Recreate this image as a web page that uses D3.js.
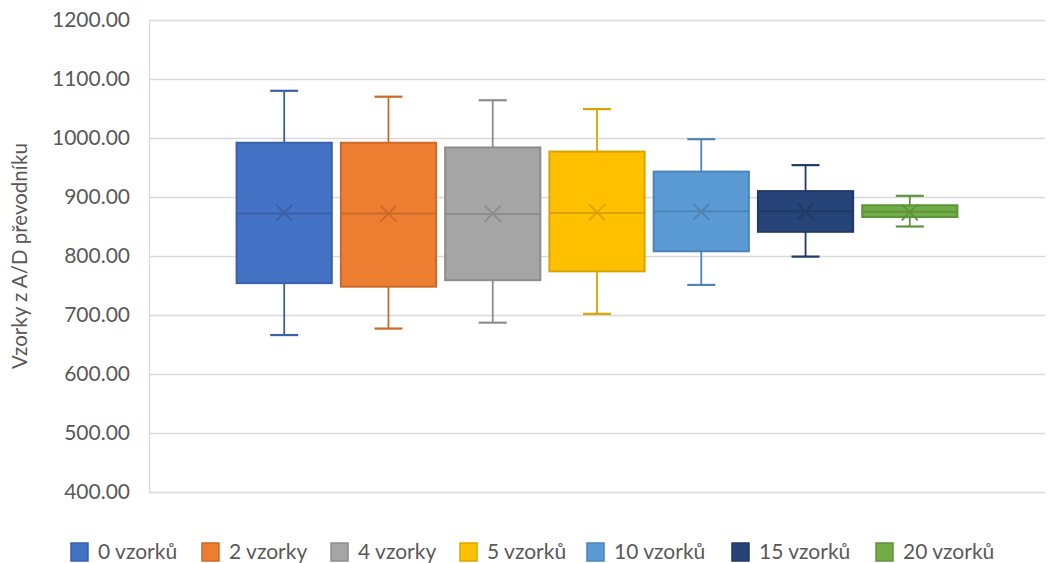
<!DOCTYPE html>
<html>
<head>
<meta charset="utf-8">
<script src="https://cdn.jsdelivr.net/npm/d3@7"></script>
<style>
  body { margin: 0; background: #fff; }
  svg { display: block; font-family: Lato, "Open Sans", sans-serif; }
</style>
</head>
<body>
<div id="chart"></div>
<script>
// series (one box per series)
const seriesNames = ["0 vzorků", "2 vzorky", "4 vzorky", "5 vzorků", "10 vzorků", "15 vzorků", "20 vzorků"];
const whiskerLow  = [666, 677, 687, 702, 751, 799, 850];
const q1          = [754, 748, 759, 774, 808, 841, 866];
const medians     = [872, 872, 871, 873, 876, 876, 875];
const q3          = [992, 992, 984, 977, 943, 910, 886];
const whiskerHigh = [1080, 1070, 1064, 1049, 998, 954, 902];
const means       = [873, 872, 872, 874, 875, 875, 874];
const colors = ["#4472C4", "#ED7D31", "#A5A5A5", "#FFC000", "#5B9BD5", "#264478", "#70AD47"];
const yTicks = [400, 500, 600, 700, 800, 900, 1000, 1100, 1200];

const width = 1048, height = 563;
const margin = { top: 20, right: 3, bottom: 71, left: 149 };

const svg = d3.select("#chart").append("svg")
    .attr("width", width)
    .attr("height", height);

const y = d3.scaleLinear()
    .domain([400, 1200])
    .range([height - margin.bottom, margin.top]);

const x = d3.scaleBand()
    .domain(seriesNames)
    .range([margin.left, width - margin.right])
    .paddingInner(0.087)
    .paddingOuter(0.84);

// gridlines
svg.append("g")
    .selectAll("line")
    .data(yTicks)
    .join("line")
    .attr("x1", margin.left)
    .attr("x2", width - margin.right)
    .attr("y1", d => Math.round(y(d)) + 0.5)
    .attr("y2", d => Math.round(y(d)) + 0.5)
    .attr("stroke", "#d9d9d9")
    .attr("stroke-width", 1.3);

svg.append("line")
    .attr("x1", margin.left + 0.5).attr("x2", margin.left + 0.5)
    .attr("y1", y(1200)).attr("y2", y(400))
    .attr("stroke", "#d9d9d9")
    .attr("stroke-width", 1.3);

// y tick labels
svg.append("g")
    .selectAll("text")
    .data(yTicks)
    .join("text")
    .attr("x", 130)
    .attr("y", d => y(d))
    .attr("dy", "0.35em")
    .attr("text-anchor", "end")
    .attr("fill", "#595959")
    .style("font-size", "21px")
    .text(d => d3.format(".2f")(d));

// axis title
svg.append("text")
    .attr("transform", `translate(27,${(y(400) + y(1200)) / 2}) rotate(-90)`)
    .attr("text-anchor", "middle")
    .attr("fill", "#595959")
    .style("font-size", "20.5px")
    .text("Vzorky z A/D převodníku");

// boxes
const data = seriesNames.map((name, i) => ({
    name,
    lo: whiskerLow[i], q1: q1[i], med: medians[i], q3: q3[i], hi: whiskerHigh[i], mean: means[i],
    color: colors[i],
    dark: d3.color(colors[i]).darker(0.45).formatHex()
}));

const g = svg.append("g")
    .selectAll("g")
    .data(data)
    .join("g");

const cx = d => x(d.name) + x.bandwidth() / 2;
const capW = 14;

// whiskers
g.append("line")
    .attr("x1", cx).attr("x2", cx)
    .attr("y1", d => y(d.hi)).attr("y2", d => y(d.q3))
    .attr("stroke", d => d.dark).attr("stroke-width", 1.8);
g.append("line")
    .attr("x1", cx).attr("x2", cx)
    .attr("y1", d => y(d.q1)).attr("y2", d => y(d.lo))
    .attr("stroke", d => d.dark).attr("stroke-width", 1.8);
g.append("line")
    .attr("x1", d => cx(d) - capW).attr("x2", d => cx(d) + capW)
    .attr("y1", d => y(d.hi)).attr("y2", d => y(d.hi))
    .attr("stroke", d => d.dark).attr("stroke-width", 2.2);
g.append("line")
    .attr("x1", d => cx(d) - capW).attr("x2", d => cx(d) + capW)
    .attr("y1", d => y(d.lo)).attr("y2", d => y(d.lo))
    .attr("stroke", d => d.dark).attr("stroke-width", 2.2);

// box
g.append("rect")
    .attr("x", d => x(d.name))
    .attr("width", x.bandwidth())
    .attr("y", d => y(d.q3))
    .attr("height", d => y(d.q1) - y(d.q3))
    .attr("fill", d => d.color)
    .attr("stroke", d => d.dark)
    .attr("stroke-width", 2);

// median
g.append("line")
    .attr("x1", d => x(d.name)).attr("x2", d => x(d.name) + x.bandwidth())
    .attr("y1", d => y(d.med)).attr("y2", d => y(d.med))
    .attr("stroke", d => d.dark).attr("stroke-width", 2);

// mean marker (x)
const m = 8;
g.append("path")
    .attr("d", d => {
        const px = cx(d), py = y(d.mean);
        return `M${px - m},${py - m}L${px + m},${py + m}M${px - m},${py + m}L${px + m},${py - m}`;
    })
    .attr("stroke", d => d.dark)
    .attr("stroke-width", 1.8)
    .attr("fill", "none");

// legend
const legendX = [70, 201, 330, 459, 586, 731, 875];
const legend = svg.append("g")
    .selectAll("g")
    .data(data)
    .join("g")
    .attr("transform", (d, i) => `translate(${legendX[i]},542)`);

legend.append("rect")
    .attr("x", 1).attr("y", 1)
    .attr("width", 17).attr("height", 18)
    .attr("fill", d => d.color)
    .attr("stroke", d => d.dark)
    .attr("stroke-width", 1.5);

legend.append("text")
    .attr("x", 28)
    .attr("y", 10)
    .attr("dy", "0.35em")
    .attr("fill", "#595959")
    .style("font-size", "21px")
    .text(d => d.name);
</script>
</body>
</html>
